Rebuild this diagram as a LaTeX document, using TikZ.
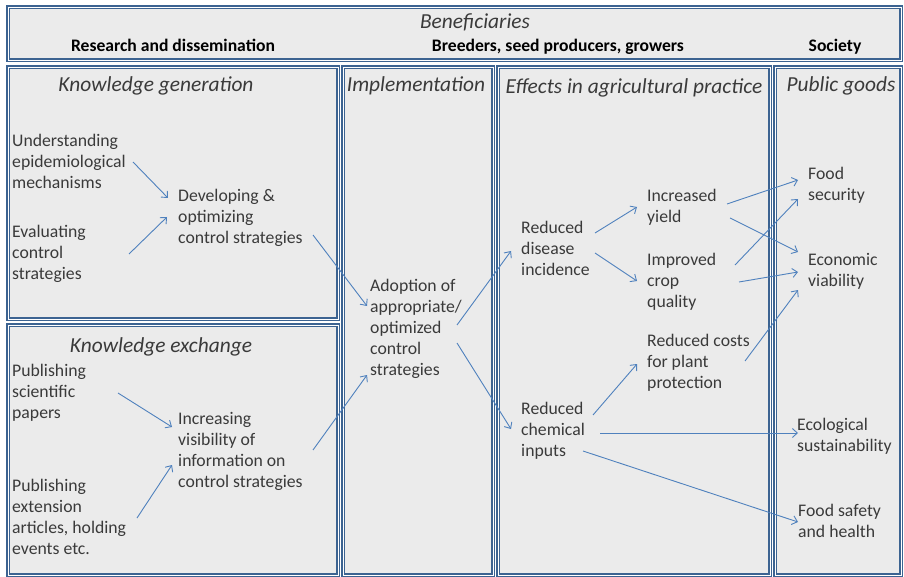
\documentclass[tikz,border=0pt]{standalone}
\usepackage{fontspec}
\setmainfont{Carlito}
\usetikzlibrary{arrows.meta}
\definecolor{boxblue}{HTML}{3C6391}
\definecolor{boxfill}{HTML}{EBEBEB}
\definecolor{arrblue}{HTML}{4F81BD}
\definecolor{txtgray}{HTML}{3A3A3A}
\tikzset{
  panel/.style={draw=boxblue, double=white, double distance=0.7pt, line width=1.3pt, fill=boxfill},
  txt/.style={anchor=north west, inner sep=0pt, align=left, text=txtgray, font=\fontsize{17.7}{21}\selectfont},
  ttl/.style={anchor=base, inner sep=0pt, text=txtgray, font=\fontsize{21.4}{24}\selectfont\itshape},
  sub/.style={anchor=base, inner sep=0pt, text=black, font=\fontsize{17.6}{20}\selectfont\bfseries},
  arr/.style={draw=arrblue, line width=0.9pt, -{Straight Barb[length=5pt,width=9pt]}}
}
\begin{document}
\begin{tikzpicture}[x=1pt,y=-1pt]
\useasboundingbox (0,0) rectangle (904,577);
\fill[white] (0,0) rectangle (904,577);
% panels
\draw[panel] (8,7) rectangle (901,60);
\draw[panel] (8,67) rectangle (338,319);
\draw[panel] (8,325) rectangle (338,575);
\draw[panel] (343,67) rectangle (493,575);
\draw[panel] (498,67) rectangle (770,575);
\draw[panel] (775,67) rectangle (901,575);
% header
\node[ttl] (ben) at (475,29) {Beneficiaries};
\node[sub] (h1) at (173,52) {Research and dissemination};
\node[sub] (h2) at (558,52) {Breeders, seed producers, growers};
\node[sub] (h3) at (835,52) {Society};
% titles
\node[ttl] (t1) at (156,92) {Knowledge generation};
\node[ttl] (t2) at (161,352) {Knowledge exchange};
\node[ttl] (t3) at (416,92) {Implementation};
\node[ttl] (t4) at (634,94) {Effects in agricultural practice};
\node[ttl] (t5) at (841,92) {Public goods};
% text nodes
\node[txt] (und) at (12,132) {\strut Understanding\\epidemiological\\mechanisms};
\node[txt] (eva) at (12,223) {\strut Evaluating\\control\\strategies};
\node[txt] (dev) at (178,187) {\strut Developing \&\\optimizing\\control strategies};
\node[txt] (pub1) at (12,362) {\strut Publishing\\scientific\\papers};
\node[txt] (pub2) at (12,477) {\strut Publishing\\extension\\articles, holding\\events etc.};
\node[txt] (inc) at (178,410) {\strut Increasing\\visibility of\\information on\\control strategies};
\node[txt] (ado) at (370,277) {\strut Adoption of\\appropriate/\\optimized\\control\\strategies};
\node[txt] (rdi) at (521,219) {\strut Reduced\\disease\\incidence};
\node[txt] (rch) at (521,400) {\strut Reduced\\chemical\\inputs};
\node[txt] (iyi) at (647,187) {\strut Increased\\yield};
\node[txt] (icq) at (647,251) {\strut Improved\\crop\\quality};
\node[txt] (rco) at (647,332) {\strut Reduced costs\\for plant\\protection};
\node[txt] (fse) at (808,165) {\strut Food\\security};
\node[txt] (eco) at (808,251) {\strut Economic\\viability};
\node[txt] (ecl) at (797,416) {\strut Ecological\\sustainability};
\node[txt] (fsh) at (798,502) {\strut Food safety\\and health};
% arrows
\draw[arr] ([shift={(121,30)}]und.north west) -- ([shift={(-10,11)}]dev.north west);
\draw[arr] ([shift={(117,31)}]eva.north west) -- ([shift={(-11,30)}]dev.north west);
\draw[arr] ([shift={(135,48)}]dev.north west) -- ([shift={(-3,29)}]ado.north west);
\draw[arr] ([shift={(106,31)}]pub1.north west) -- ([shift={(-6,17)}]inc.north west);
\draw[arr] ([shift={(125,41)}]pub2.north west) -- ([shift={(-6,55)}]inc.north west);
\draw[arr] ([shift={(135,40)}]inc.north west) -- ([shift={(-3,98)}]ado.north west);
\draw[arr] ([shift={(87,48)}]ado.north west) -- ([shift={(-10,32)}]rdi.north west);
\draw[arr] ([shift={(87,66)}]ado.north west) -- ([shift={(-10,29)}]rch.north west);
\draw[arr] ([shift={(74,14)}]rdi.north west) -- ([shift={(-10,20)}]iyi.north west);
\draw[arr] ([shift={(74,34)}]rdi.north west) -- ([shift={(-10,30)}]icq.north west);
\draw[arr] ([shift={(80,17)}]iyi.north west) -- ([shift={(-10,15)}]fse.north west);
\draw[arr] ([shift={(83,31)}]iyi.north west) -- ([shift={(-10,1)}]eco.north west);
\draw[arr] ([shift={(88,14)}]icq.north west) -- ([shift={(-10,34)}]fse.north west);
\draw[arr] ([shift={(92,31)}]icq.north west) -- ([shift={(-10,21)}]eco.north west);
\draw[arr] ([shift={(98,29)}]rco.north west) -- ([shift={(-10,39)}]eco.north west);
\draw[arr] ([shift={(72,15)}]rch.north west) -- ([shift={(-10,32)}]rco.north west);
\draw[arr] ([shift={(79,33)}]rch.north west) -- ([shift={(1,17)}]ecl.north west);
\draw[arr] ([shift={(62,51)}]rch.north west) -- ([shift={(0,20)}]fsh.north west);
\end{tikzpicture}
\end{document}
